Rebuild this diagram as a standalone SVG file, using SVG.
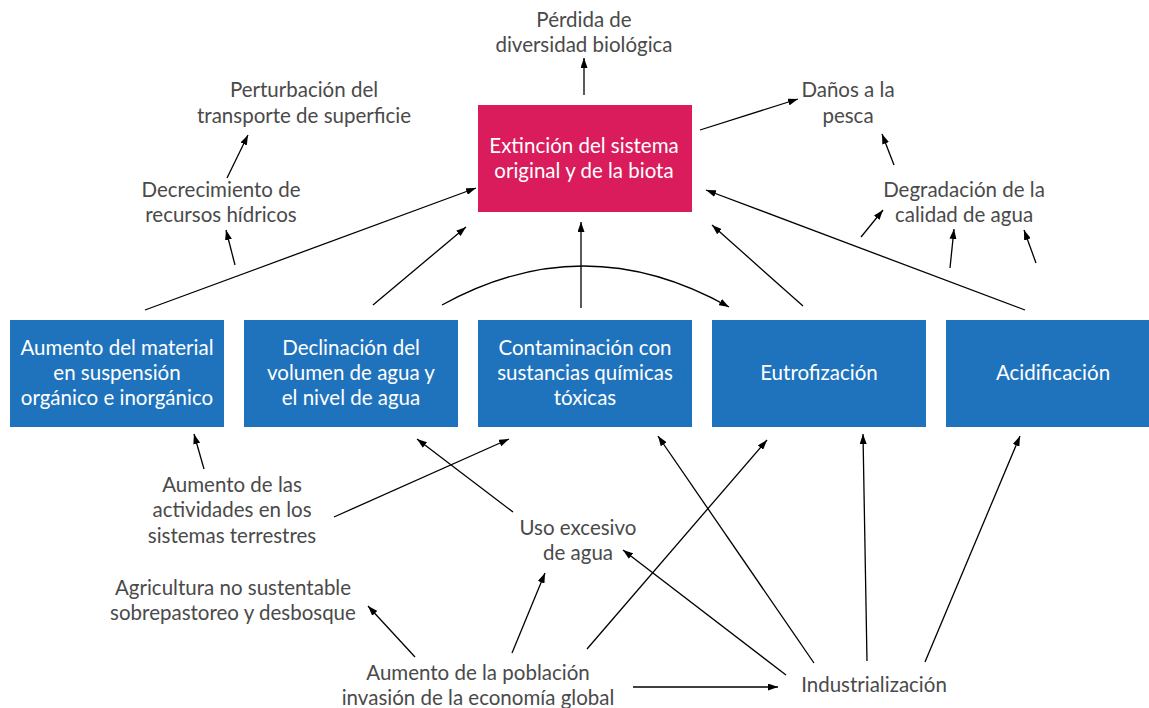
<svg xmlns="http://www.w3.org/2000/svg" width="1149" height="708" viewBox="0 0 1149 708">
<defs>
<marker id="ah" markerWidth="10" markerHeight="7" refX="10" refY="3.5" orient="auto" markerUnits="userSpaceOnUse">
<path d="M0,0 L10,3.5 L0,7 z" fill="#000"/>
</marker>
<style>
.lbl{font-family:Lato,"Liberation Sans",sans-serif;font-size:20.5px;fill:#4a4a4a;text-anchor:middle}
.bt{font-family:Lato,"Liberation Sans",sans-serif;font-size:20.5px;fill:#fff;text-anchor:middle}
.box{fill:#1f73bc}
.pink{fill:#da1b5c}
.c line,.c path{stroke:#000;stroke-width:1.3;fill:none;marker-end:url(#ah)}
</style>
</defs>
<rect width="1149" height="708" fill="#fff"/>

<g id="n-extincion"><rect class="pink" x="478" y="105" width="214" height="107"/>
<text class="bt" x="584" y="153">Extinción del sistema</text><text class="bt" x="584" y="178">original y de la biota</text></g>

<g id="n-perdida"><text class="lbl" x="584" y="27">Pérdida de</text><text class="lbl" x="584" y="52">diversidad biológica</text></g>
<g id="n-perturbacion"><text class="lbl" x="304" y="97">Perturbación del</text><text class="lbl" x="304" y="123">transporte de superficie</text></g>
<g id="n-decrecimiento"><text class="lbl" x="221" y="197">Decrecimiento de</text><text class="lbl" x="221" y="222">recursos hídricos</text></g>
<g id="n-danos"><text class="lbl" x="848" y="97">Daños a la</text><text class="lbl" x="848" y="123">pesca</text></g>
<g id="n-degradacion"><text class="lbl" x="964" y="197">Degradación de la</text><text class="lbl" x="964" y="222">calidad de agua</text></g>

<g id="n-aumento-material"><rect class="box" x="10" y="320" width="214" height="107"/>
<text class="bt" x="117" y="355">Aumento del material</text><text class="bt" x="117" y="380">en suspensión</text><text class="bt" x="117" y="405">orgánico e inorgánico</text></g>
<g id="n-declinacion"><rect class="box" x="244" y="320" width="214" height="107"/>
<text class="bt" x="351" y="355">Declinación del</text><text class="bt" x="351" y="380">volumen de agua y</text><text class="bt" x="351" y="405">el nivel de agua</text></g>
<g id="n-contaminacion"><rect class="box" x="478" y="320" width="214" height="107"/>
<text class="bt" x="585" y="355">Contaminación con</text><text class="bt" x="585" y="380">sustancias químicas</text><text class="bt" x="585" y="405">tóxicas</text></g>
<g id="n-eutrofizacion"><rect class="box" x="712" y="320" width="214" height="107"/>
<text class="bt" x="819" y="380">Eutrofización</text></g>
<g id="n-acidificacion"><rect class="box" x="946" y="320" width="203" height="107"/>
<text class="bt" x="1053" y="380">Acidificación</text></g>

<g id="n-actividades"><text class="lbl" x="232" y="492">Aumento de las</text><text class="lbl" x="232" y="517">actividades en los</text><text class="lbl" x="232" y="543">sistemas terrestres</text></g>
<g id="n-uso"><text class="lbl" x="578" y="535">Uso excesivo</text><text class="lbl" x="578" y="560">de agua</text></g>
<g id="n-agricultura"><text class="lbl" x="233" y="595">Agricultura no sustentable</text><text class="lbl" x="233" y="620">sobrepastoreo y desbosque</text></g>
<g id="n-poblacion"><text class="lbl" x="478" y="680">Aumento de la población</text><text class="lbl" x="478" y="705">invasión de la economía global</text></g>
<g id="n-industrializacion"><text class="lbl" x="874" y="692">Industrialización</text></g>

<g id="connectors" class="c">
<line x1="584" y1="95" x2="584" y2="58"/>
<line x1="700" y1="130" x2="798" y2="99"/>
<line x1="894" y1="165" x2="882" y2="134"/>
<line x1="861" y1="237" x2="883" y2="210"/>
<line x1="950" y1="268" x2="954" y2="229"/>
<line x1="1036" y1="263" x2="1024" y2="230"/>
<line x1="227" y1="178" x2="248" y2="135"/>
<line x1="235" y1="265" x2="226" y2="230"/>
<line x1="145" y1="310" x2="476" y2="188"/>
<line x1="373" y1="305" x2="466" y2="227"/>
<line x1="581" y1="308" x2="581" y2="222"/>
<path d="M442,305 Q585,226 729,307"/>
<line x1="803" y1="306" x2="712" y2="225"/>
<line x1="1025" y1="310" x2="706" y2="190"/>
<line x1="204" y1="469" x2="194" y2="434"/>
<line x1="334" y1="517" x2="509" y2="439"/>
<line x1="513" y1="512" x2="417" y2="439"/>
<line x1="415" y1="657" x2="368" y2="606"/>
<line x1="512" y1="653" x2="545" y2="573"/>
<line x1="587" y1="649" x2="767" y2="440"/>
<line x1="633" y1="687" x2="778" y2="687"/>
<line x1="786" y1="675" x2="623" y2="550"/>
<line x1="814" y1="663" x2="658" y2="436"/>
<line x1="867" y1="661" x2="863" y2="434"/>
<line x1="925" y1="662" x2="1020" y2="436"/>
</g>
</svg>
